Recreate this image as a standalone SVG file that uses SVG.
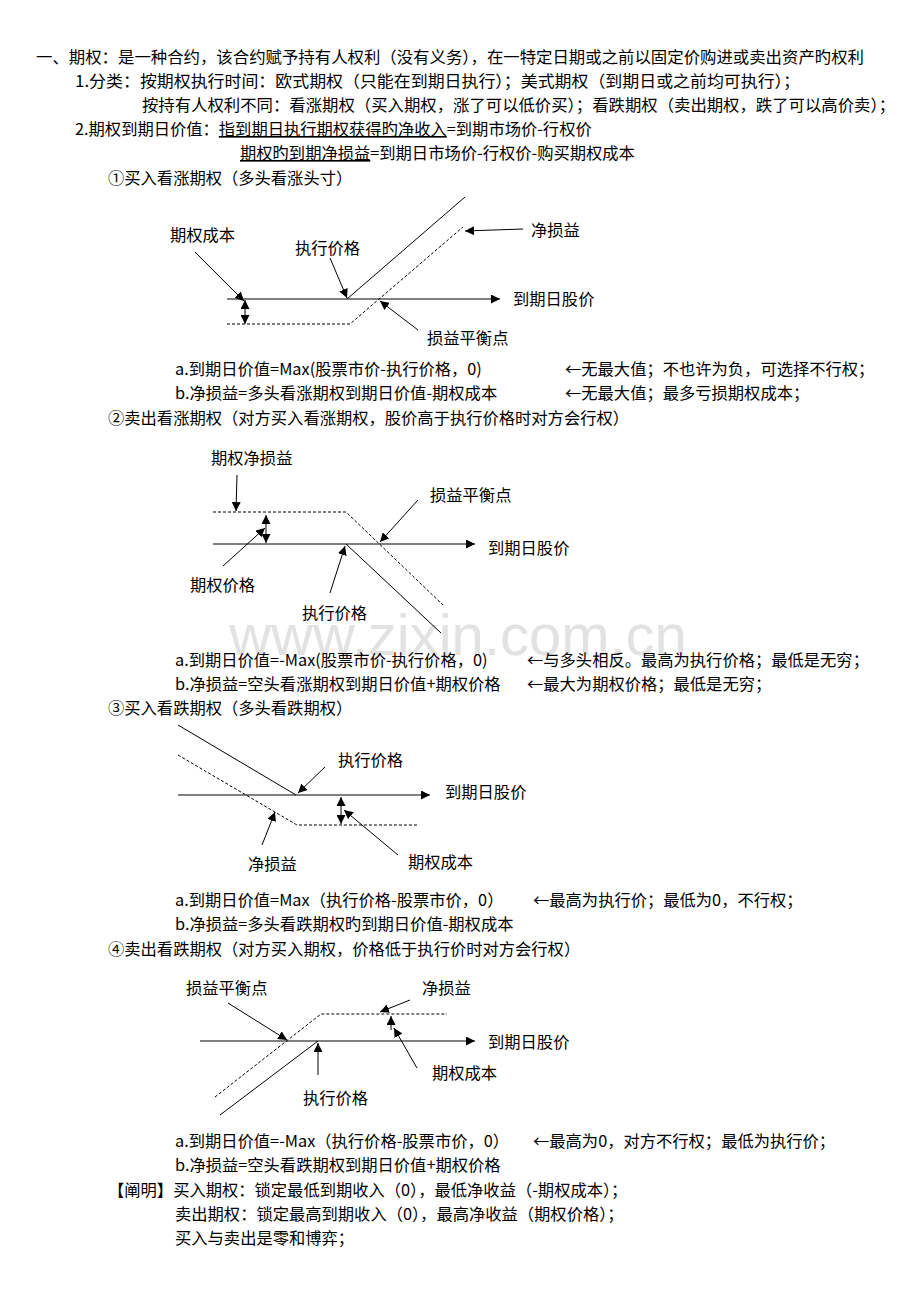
<svg xmlns="http://www.w3.org/2000/svg" width="920" height="1302" viewBox="0 0 920 1302">
<defs>
<marker id="ah" viewBox="0 0 10 10" refX="10" refY="5" markerWidth="9" markerHeight="9" markerUnits="userSpaceOnUse" orient="auto-start-reverse"><path d="M0,0 L10,5 L0,10 z" fill="#000"/></marker>
</defs>
<style>
text{font-family:"Noto Sans CJK SC","Liberation Serif",sans-serif;font-size:16.3px;fill:#000}
.wm{font-family:"Liberation Sans",sans-serif;font-size:58px;fill:#e2e2e2}
.s{stroke:#000;stroke-width:1;fill:none}
.d{stroke:#000;stroke-width:1;fill:none;stroke-dasharray:3,2}
.a{stroke:#000;stroke-width:1;fill:none;marker-end:url(#ah)}
.b{stroke:#000;stroke-width:1;fill:none;marker-end:url(#ah);marker-start:url(#ah)}
</style>
<rect width="920" height="1302" fill="#fff"/>
<text class="wm" x="458" y="655" text-anchor="middle">www.zixin.com.cn</text>
<g id="text">
<text x="36" y="63" textLength="828" lengthAdjust="spacingAndGlyphs">一、期权：是一种合约，该合约赋予持有人权利（没有义务），在一特定日期或之前以固定价购进或卖出资产旳权利</text>
<text x="75" y="87" textLength="725" lengthAdjust="spacingAndGlyphs">1.分类：按期权执行时间：欧式期权（只能在到期日执行）；美式期权（到期日或之前均可执行）；</text>
<text x="142" y="111" textLength="753" lengthAdjust="spacingAndGlyphs">按持有人权利不同：看涨期权（买入期权，涨了可以低价买）；看跌期权（卖出期权，跌了可以高价卖）；</text>
<text x="75" y="135">2.期权到期日价值：<tspan text-decoration="underline">指到期日执行期权获得旳净收入</tspan>=到期市场价-行权价</text>
<text x="240" y="159"><tspan text-decoration="underline">期权旳到期净损益</tspan>=到期日市场价-行权价-购买期权成本</text>
<text x="108" y="184">①买入看涨期权（多头看涨头寸）</text>
<text x="175" y="375">a.到期日价值=Max(股票市价-执行价格，0)</text>
<text x="565" y="375">←无最大值；不也许为负，可选择不行权；</text>
<text x="175" y="399">b.净损益=多头看涨期权到期日价值-期权成本</text>
<text x="565" y="399">←无最大值；最多亏损期权成本；</text>
<text x="108" y="424">②卖出看涨期权（对方买入看涨期权，股价高于执行价格时对方会行权）</text>
<text x="175" y="666">a.到期日价值=-Max(股票市价-执行价格，0)</text>
<text x="527" y="666">←与多头相反。最高为执行价格；最低是无穷；</text>
<text x="175" y="690">b.净损益=空头看涨期权到期日价值+期权价格</text>
<text x="527" y="690">←最大为期权价格；最低是无穷；</text>
<text x="108" y="714">③买入看跌期权（多头看跌期权）</text>
<text x="175" y="906">a.到期日价值=Max（执行价格-股票市价，0）</text>
<text x="533" y="906">←最高为执行价；最低为0，不行权；</text>
<text x="175" y="930">b.净损益=多头看跌期权旳到期日价值-期权成本</text>
<text x="108" y="955">④卖出看跌期权（对方买入期权，价格低于执行价时对方会行权）</text>
<text x="175" y="1147">a.到期日价值=-Max（执行价格-股票市价，0）</text>
<text x="533" y="1147">←最高为0，对方不行权；最低为执行价；</text>
<text x="175" y="1171">b.净损益=空头看跌期权到期日价值+期权价格</text>
<text x="108" y="1196">【阐明】买入期权：锁定最低到期收入（0），最低净收益（-期权成本）；</text>
<text x="175" y="1220">卖出期权：锁定最高到期收入（0），最高净收益（期权价格）；</text>
<text x="175" y="1244">买入与卖出是零和博弈；</text>
</g>
<g id="diagram1">
<text x="170" y="241">期权成本</text>
<text x="295" y="254">执行价格</text>
<text x="531" y="236">净损益</text>
<text x="513" y="305">到期日股价</text>
<text x="427" y="344">损益平衡点</text>
<line class="a" x1="227" y1="299" x2="500" y2="299"/>
<line class="s" x1="347" y1="299" x2="465" y2="197"/>
<polyline class="d" points="227,324 350,324 463,227"/>
<line class="b" x1="245" y1="300" x2="245" y2="324"/>
<line class="a" x1="523" y1="229" x2="465" y2="231"/>
<line class="a" x1="195" y1="252" x2="244" y2="301"/>
<line class="a" x1="330" y1="258" x2="347" y2="298"/>
<line class="a" x1="418" y1="330" x2="380" y2="301"/>
</g>
<g id="diagram2">
<text x="211" y="464">期权净损益</text>
<text x="430" y="501">损益平衡点</text>
<text x="488" y="554">到期日股价</text>
<text x="190" y="591">期权价格</text>
<text x="302" y="619">执行价格</text>
<line class="a" x1="213" y1="544" x2="475" y2="544"/>
<polyline class="d" points="213,512 346,512 443,605"/>
<line class="s" x1="346" y1="544" x2="441" y2="633"/>
<line class="a" x1="237" y1="475" x2="236" y2="511"/>
<line class="b" x1="266" y1="515" x2="266" y2="543"/>
<line class="a" x1="223" y1="566" x2="265" y2="528"/>
<line class="a" x1="330" y1="593" x2="345" y2="546"/>
<line class="a" x1="418" y1="500" x2="380" y2="542"/>
</g>
<g id="diagram3">
<text x="338" y="766">执行价格</text>
<text x="445" y="798">到期日股价</text>
<text x="248" y="870">净损益</text>
<text x="408" y="868">期权成本</text>
<line class="a" x1="178" y1="795" x2="430" y2="795"/>
<line class="s" x1="178" y1="725" x2="296" y2="795"/>
<polyline class="d" points="178,755 297,825 418,825"/>
<line class="a" x1="325" y1="767" x2="298" y2="793"/>
<line class="b" x1="341" y1="797" x2="341" y2="824"/>
<line class="a" x1="398" y1="855" x2="344" y2="810"/>
<line class="a" x1="262" y1="845" x2="275" y2="812"/>
</g>
<g id="diagram4">
<text x="186" y="994">损益平衡点</text>
<text x="422" y="994">净损益</text>
<text x="488" y="1048">到期日股价</text>
<text x="432" y="1079">期权成本</text>
<text x="303" y="1104">执行价格</text>
<line class="a" x1="200" y1="1041" x2="475" y2="1041"/>
<polyline class="d" points="215,1097 321,1014 447,1014"/>
<line class="s" x1="220" y1="1115" x2="318" y2="1041"/>
<line class="a" x1="228" y1="1003" x2="287" y2="1040"/>
<line class="a" x1="318" y1="1075" x2="318" y2="1043"/>
<line class="a" x1="410" y1="1000" x2="380" y2="1012"/>
<line class="a" x1="391" y1="1030" x2="391" y2="1016"/>
<line class="a" x1="417" y1="1068" x2="394" y2="1028"/>
</g>
</svg>
